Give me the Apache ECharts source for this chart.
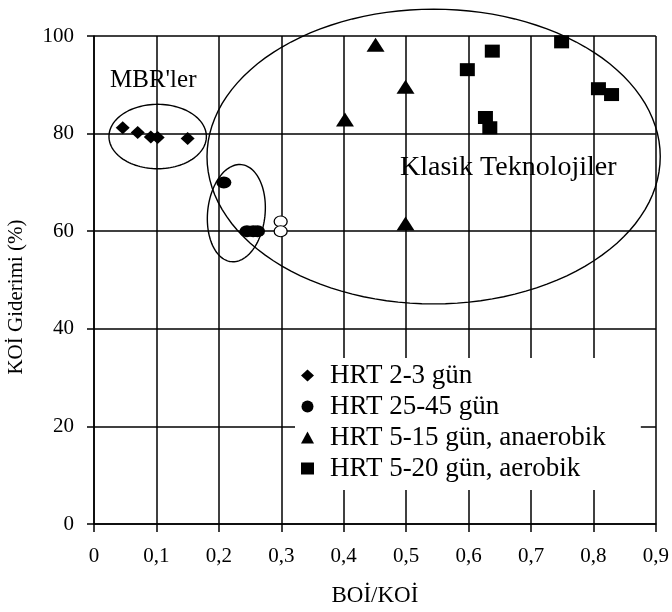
<!DOCTYPE html>
<html>
<head>
    <meta charset="UTF-8">
    <title>KOİ Giderimi</title>
    <script src="https://cdn.jsdelivr.net/npm/echarts@6/dist/echarts.min.js"></script>
</head>
<body style="margin:0;background:#fff;">
<div id="chart" style="width:672px;height:612px;"></div>
<script type="text/javascript">
    // [BOİ/KOİ, KOİ giderimi %]
    var hrt23 = [[0.046, 81.2], [0.070, 80.2], [0.091, 79.3], [0.102, 79.2], [0.150, 79.0]];
    var hrt2545 = [[0.208, 70.0], [0.245, 60.0], [0.255, 60.0], [0.262, 60.0]];
    var hrt2545Open = [[0.299, 62.0], [0.299, 60.0]];
    var hrt515 = [[0.402, 82.9], [0.451, 98.2], [0.499, 89.6], [0.499, 61.6]];
    var hrt520 = [[0.598, 93.1], [0.627, 83.3], [0.634, 81.2], [0.638, 96.9], [0.749, 98.8], [0.808, 89.2], [0.829, 88.0]];
    var seriesNames = ['HRT 2-3 gün', 'HRT 25-45 gün', 'HRT 5-15 gün, anaerobik', 'HRT 5-20 gün, aerobik'];
    // group outlines: centre x, centre y, radius x, radius y (data units), tilt in degrees
    var groups = [[0.102, 79.4, 0.078, 6.6, 0], [0.228, 63.7, 0.046, 10.0, 6], [0.544, 75.3, 0.363, 30.2, 0]];

    var font = 'Liberation Serif';
    var myChart = echarts.init(document.getElementById('chart'));

    function drawGroup(params, api) {
        var c = api.coord([api.value(0), api.value(1)]);
        var s = api.size([api.value(2), api.value(3)]);
        var rot = api.value(4) * Math.PI / 180;
        var pts = [];
        for (var i = 0; i < 120; i++) {
            var t = i / 120 * 2 * Math.PI;
            var x = s[0] * Math.cos(t), y = s[1] * Math.sin(t);
            pts.push([c[0] + x * Math.cos(rot) - y * Math.sin(rot), c[1] + x * Math.sin(rot) + y * Math.cos(rot)]);
        }
        return {
            type: 'polygon',
            shape: {points: pts},
            style: {fill: 'none', stroke: '#000', lineWidth: 1.4}
        };
    }

    var dot = {color: '#000', opacity: 1};

    myChart.setOption({
        animation: false,
        backgroundColor: '#fff',
        grid: {left: 94, right: 15, top: 36, bottom: 86},
        xAxis: {
            type: 'value', min: 0, max: 0.9, interval: 0.1,
            name: 'BOİ/KOİ', nameLocation: 'middle', nameGap: 60,
            nameTextStyle: {fontFamily: font, fontSize: 23, color: '#000'},
            axisLine: {lineStyle: {color: '#000', width: 1.5}},
            axisTick: {show: true, length: 8, lineStyle: {color: '#000', width: 1.5}},
            axisLabel: {
                margin: 22, fontFamily: font, fontSize: 21, color: '#000',
                formatter: function (v) { return v === 0 ? '0' : v.toFixed(1).replace('.', ','); }
            },
            splitLine: {show: true, lineStyle: {color: '#000', width: 1.5}}
        },
        yAxis: {
            type: 'value', min: 0, max: 100, interval: 20,
            axisLine: {show: true, lineStyle: {color: '#000', width: 1.5}},
            axisTick: {show: true, length: 7, lineStyle: {color: '#000', width: 1.5}},
            axisLabel: {margin: 20, fontFamily: font, fontSize: 21, color: '#000'},
            splitLine: {show: true, lineStyle: {color: '#000', width: 1.5}}
        },
        legend: {
            orient: 'vertical', left: 295, top: 358,
            data: seriesNames,
            backgroundColor: '#fff',
            padding: [2, 35, 6, 6],
            itemGap: 0, itemWidth: 13, itemHeight: 12,
            itemStyle: {opacity: 1},
            textStyle: {fontFamily: font, fontSize: 27, color: '#000', lineHeight: 31, padding: [0, 0, 0, 11]},
            selectedMode: false
        },
        graphic: [
            {type: 'text', left: 110, top: 68, style: {text: "MBR'ler", font: '25px "Liberation Serif"', fill: '#000'}},
            {type: 'text', left: 400, top: 154, style: {text: 'Klasik Teknolojiler', font: '28px "Liberation Serif"', fill: '#000'}},
            {type: 'text', x: 16, y: 297, rotation: Math.PI / 2,
                style: {text: 'KOİ Giderimi (%)', font: '21px "Liberation Serif"', fill: '#000', align: 'center', verticalAlign: 'middle'}}
        ],
        series: [
            {
                name: 'outlines', type: 'custom', data: groups, renderItem: drawGroup,
                encode: {x: 0, y: 1}, clip: false, silent: true, z: 1
            },
            {name: seriesNames[0], type: 'scatter', data: hrt23, symbol: 'diamond', symbolSize: [14, 13],
                itemStyle: dot, z: 3},
            {name: seriesNames[1], type: 'scatter', data: hrt2545, symbol: 'circle', symbolSize: [15, 12],
                itemStyle: dot, z: 3},
            {name: 'open', type: 'scatter', data: hrt2545Open, symbol: 'circle', symbolSize: [13, 11],
                itemStyle: {color: '#fff', borderColor: '#000', borderWidth: 1.2, opacity: 1}, z: 3},
            {name: seriesNames[2], type: 'scatter', data: hrt515, symbol: 'triangle', symbolSize: [18, 14],
                itemStyle: dot, z: 3},
            {name: seriesNames[3], type: 'scatter', data: hrt520, symbol: 'rect', symbolSize: [15, 13],
                itemStyle: dot, z: 3}
        ]
    });
</script>
</body>
</html>
